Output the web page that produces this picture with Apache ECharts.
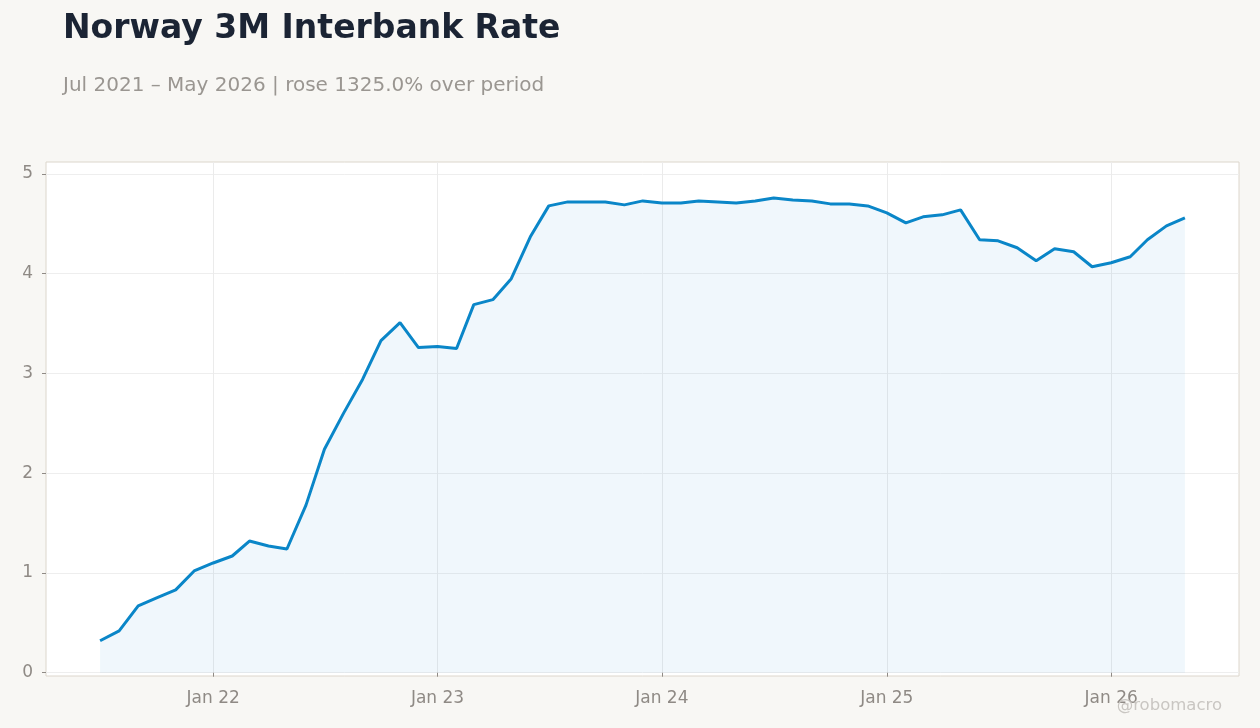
<!DOCTYPE html>
<html>
<head>
<meta charset="utf-8">
<script src="https://cdn.jsdelivr.net/npm/echarts@6/dist/echarts.min.js"></script>
<style>
html,body{margin:0;padding:0;background:#f8f7f4;}
#chart{width:1260px;height:728px;}
</style>
</head>
<body>
<div id="chart"></div>
<script>
const months = [
 '2021-07','2021-08','2021-09','2021-10','2021-11','2021-12',
 '2022-01','2022-02','2022-03','2022-04','2022-05','2022-06','2022-07','2022-08','2022-09','2022-10','2022-11','2022-12',
 '2023-01','2023-02','2023-03','2023-04','2023-05','2023-06','2023-07','2023-08','2023-09','2023-10','2023-11','2023-12',
 '2024-01','2024-02','2024-03','2024-04','2024-05','2024-06','2024-07','2024-08','2024-09','2024-10','2024-11','2024-12',
 '2025-01','2025-02','2025-03','2025-04','2025-05','2025-06','2025-07','2025-08','2025-09','2025-10','2025-11','2025-12',
 '2026-01','2026-02','2026-03','2026-04','2026-05'
];
const rates = [
 0.32,0.42,0.67,0.75,0.83,1.02,
 1.10,1.17,1.32,1.27,1.24,1.68,2.24,2.60,2.94,3.33,3.51,3.26,
 3.27,3.25,3.69,3.74,3.95,4.37,4.68,4.72,4.72,4.72,4.69,4.73,
 4.71,4.71,4.73,4.72,4.71,4.73,4.76,4.74,4.73,4.70,4.70,4.68,
 4.61,4.51,4.57,4.59,4.64,4.34,4.33,4.26,4.13,4.25,4.22,4.07,
 4.11,4.17,4.34,4.48,4.56
];
const yTicks = [0,1,2,3,4,5];
const xTickDates = ['2022-01-01','2023-01-01','2024-01-01','2025-01-01','2026-01-01'];
const titleText = 'Norway 3M Interbank Rate';
const subtitleText = 'Jul 2021 \u2013 May 2026 | rose 1325.0% over period';
const watermark = '@robomacro';

const toTs = s => { const p = s.split('-').map(Number); return Date.UTC(p[0], p[1]-1, p[2] || 1); };
const seriesData = months.map((m, i) => [toTs(m), rates[i]]);
const xTicks = xTickDates.map(toTs);
const monNames = ['Jan','Feb','Mar','Apr','May','Jun','Jul','Aug','Sep','Oct','Nov','Dec'];

const chart = echarts.init(document.getElementById('chart'));
chart.setOption({
  animation: false,
  backgroundColor: '#f8f7f4',
  title: [
    { text: titleText, left: 63, top: 13, padding: 0,
      textStyle: { fontFamily: 'DejaVu Sans', fontWeight: 'bold', fontSize: 33, color: '#1b2434' } },
    { text: subtitleText, left: 63, top: 76, padding: 0,
      textStyle: { fontFamily: 'DejaVu Sans', fontWeight: 'normal', fontSize: 20, color: '#9a9691' } }
  ],
  graphic: [
    { type: 'text', right: 38, bottom: 14, z: 100,
      style: { text: watermark, fontFamily: 'DejaVu Sans', fontSize: 16.5, fill: '#c9c6c2' } }
  ],
  grid: { left: 46, right: 21, top: 162, bottom: 52, show: true,
    backgroundColor: '#ffffff', borderColor: '#dcd6cc', borderWidth: 1 },
  xAxis: {
    type: 'value',
    min: Date.UTC(2021, 3, 4),
    max: Date.UTC(2026, 6, 28),
    axisLine: { show: false },
    axisTick: { show: true, length: 4, lineStyle: { color: '#8f8a85' }, customValues: xTicks },
    axisLabel: { customValues: xTicks, color: '#8f8a85', fontFamily: 'DejaVu Sans', fontSize: 17, margin: 14,
      formatter: v => { const d = new Date(v); return monNames[d.getUTCMonth()] + ' ' + String(d.getUTCFullYear()).slice(2); } },
    splitLine: { show: true, lineStyle: { color: '#ebebeb', width: 1 } }
  },
  yAxis: {
    type: 'value',
    min: -0.033,
    max: 5.12,
    axisLine: { show: false },
    axisTick: { show: true, length: 4, lineStyle: { color: '#8f8a85' }, customValues: yTicks },
    axisLabel: { customValues: yTicks, color: '#8f8a85', fontFamily: 'DejaVu Sans', fontSize: 17, margin: 13 },
    splitLine: { show: true, lineStyle: { color: '#eeeeee', width: 1 } }
  },
  series: [{
    type: 'line',
    data: seriesData,
    showSymbol: false,
    symbol: 'none',
    lineStyle: { color: '#0a86c8', width: 3 },
    areaStyle: { color: 'rgba(40,140,215,0.1)', origin: 0 },
    z: 3
  }]
});
</script>
</body>
</html>
